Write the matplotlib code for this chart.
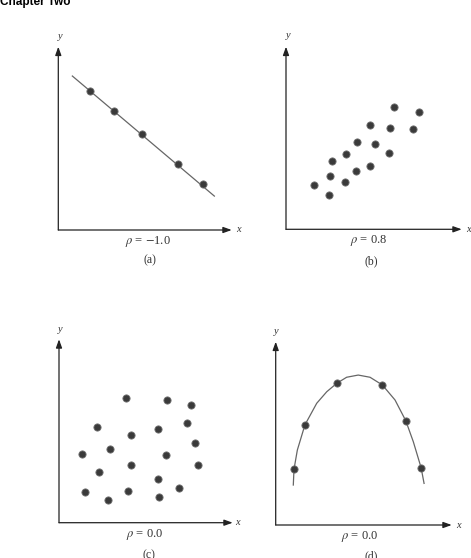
import matplotlib
matplotlib.use("Agg")
import matplotlib.pyplot as plt

plt.rcParams['mathtext.fontset'] = 'stix'

W, H = 471, 558

# panel (a): perfect negative correlation
a_x = [1.83, 3.23, 4.81, 6.89, 8.33]
a_y = [7.60, 6.51, 5.25, 3.60, 2.49]
a_line_x = [0.81, 9.00]
a_line_y = [8.40, 1.85]

# panel (b): positive correlation
b_x = [1.59, 2.43, 2.52, 2.60, 3.34, 3.41, 4.00, 4.02, 4.76, 4.76, 5.05, 5.86, 5.92, 6.13, 7.25, 7.57]
b_y = [2.44, 1.88, 2.94, 3.76, 2.57, 4.11, 3.19, 4.80, 3.48, 5.71, 4.67, 4.18, 5.56, 6.71, 5.48, 6.44]

# panel (c): no correlation
c_x = [3.87, 6.23, 7.62, 2.17, 7.35, 5.70, 4.13, 7.83, 2.94, 1.32,
       6.16, 4.12, 7.99, 2.29, 5.72, 6.91, 1.48, 3.99, 5.77, 2.80]
c_y = [6.80, 6.69, 6.40, 5.23, 5.44, 5.11, 4.77, 4.33, 4.03, 3.75,
       3.69, 3.16, 3.15, 2.78, 2.40, 1.89, 1.67, 1.73, 1.42, 1.22]

# panel (d): nonlinear relation, zero correlation
d_x = [1.04, 1.66, 3.47, 6.06, 7.39, 8.26]
d_y = [3.04, 5.46, 7.73, 7.64, 5.69, 3.13]
d_curve_x = [1.00, 1.04, 1.23, 1.66, 2.33, 2.90, 3.47, 4.03, 4.69, 5.36,
             6.06, 6.78, 7.39, 7.82, 8.26, 8.43]
d_curve_y = [2.18, 3.04, 4.09, 5.46, 6.64, 7.27, 7.73, 8.06, 8.18, 8.06,
             7.64, 6.82, 5.69, 4.54, 3.13, 2.27]

rho_labels = [r'$\rho$ = $-$1.0', r'$\rho$ = 0.8', r'$\rho$ = 0.0', r'$\rho$ = 0.0']
panel_tags = ['(a)', '(b)', '(c)', '(d)']

# pixel boxes: origin x, origin y, width, height
boxes = [(58.3, 230.0, 173.4, 183.3),
         (286.0, 229.3, 175.7, 182.6),
         (59.0, 522.7, 173.7, 183.4),
         (275.7, 525.0, 176.0, 183.3)]
ylab = [(0.01, 1.053), (0.01, 1.064), (0.005, 1.054), (0.005, 1.058)]
xlab = [1.036, 1.036, 1.03, 1.037]
rho_pos = [(0.519, -0.064), (0.472, -0.062), (0.495, -0.067), (0.475, -0.064)]
tag_pos = [(0.526, -0.166), (0.488, -0.174), (0.518, -0.18), (0.545, -0.172)]

fig = plt.figure(figsize=(W / 100, H / 100), dpi=100)
fig.text(0.0, 1 - 4.8 / H, 'Chapter Two', family='Liberation Sans', weight='bold',
         fontsize=8.5, ha='left', va='baseline')

serif = 'Liberation Serif'
dot = dict(marker='o', markersize=5.2, markerfacecolor='#3a3a3a',
           markeredgecolor='#707070', markeredgewidth=0.6, linestyle='none')
axes = []
for i, (ox, oy, w, h) in enumerate(boxes):
    ax = fig.add_axes([ox / W, 1 - oy / H, w / W, h / H])
    ax.set_xlim(0, 10)
    ax.set_ylim(0, 10)
    ax.axis('off')
    arrow = dict(arrowstyle='-|>,head_length=0.5,head_width=0.18', color='#222222',
                 lw=0.9, shrinkA=0, shrinkB=0)
    ax.annotate('', xy=(1, 0), xytext=(0, 0), xycoords='axes fraction', arrowprops=arrow)
    ax.annotate('', xy=(0, 1), xytext=(0, 0), xycoords='axes fraction', arrowprops=arrow)
    ax.text(ylab[i][0], ylab[i][1], 'y', transform=ax.transAxes, family=serif,
            style='italic', fontsize=7.5, ha='center', va='center', color='#333333')
    ax.text(xlab[i], 0.0, 'x', transform=ax.transAxes, family=serif,
            style='italic', fontsize=7.5, ha='center', va='center', color='#333333')
    ax.text(rho_pos[i][0], rho_pos[i][1], rho_labels[i], transform=ax.transAxes,
            family=serif, fontsize=9, ha='center', va='center', color='#333333')
    ax.text(tag_pos[i][0], tag_pos[i][1], panel_tags[i], transform=ax.transAxes,
            family=serif, fontsize=8.5, ha='center', va='center', color='#333333')
    axes.append(ax)

axes[0].plot(a_line_x, a_line_y, color='#666666', lw=0.9)
axes[0].plot(a_x, a_y, **dot)
axes[1].plot(b_x, b_y, **dot)
axes[2].plot(c_x, c_y, **dot)
axes[3].plot(d_curve_x, d_curve_y, color='#666666', lw=0.9)
axes[3].plot(d_x, d_y, **dot)

fig.savefig('out.png', dpi=100)
